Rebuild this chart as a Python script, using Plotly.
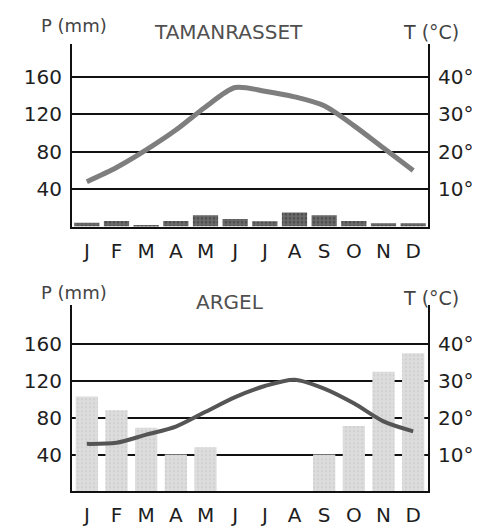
import plotly.graph_objects as go

months = ["J", "F", "M", "A", "M", "J", "J", "A", "S", "O", "N", "D"]
xpos = list(range(12))

# Tamanrasset
tam_precip = [4, 6, 1.5, 6, 12, 8, 5.5, 15, 12, 6, 3.5, 3.5]          # mm
tam_temp = [12, 15.8, 20.5, 25.8, 32, 37.2, 36.2, 34.7, 32.3, 27, 21, 15]  # °C

# Argel
arg_precip = [103, 88, 69, 40, 48, 0, 0, 0, 40, 71, 130, 150]          # mm
arg_temp = [12.9, 13.2, 15.4, 17.6, 21.6, 25.6, 28.6, 30.3, 27.9, 23.9, 19, 16.3]  # °C

p_ticks = [40, 80, 120, 160]
t_ticks = [10, 20, 30, 40]
t_ticktext = ["10°", "20°", "30°", "40°"]

W, H = 483, 527
FONT = "DejaVu Sans, Liberation Sans, sans-serif"


def px_x(p):
    return p / W


def px_y(p):
    return 1 - p / H


fig = go.Figure()

# Top chart
fig.add_trace(go.Bar(
    x=xpos, y=tam_precip, xaxis="x", yaxis="y", width=0.85,
    marker=dict(color="#5a5a5a", line=dict(width=0),
                pattern=dict(shape=".", bgcolor="#6a6a6a", fgcolor="#2e2e2e", size=4, solidity=0.35)),
    showlegend=False, hoverinfo="skip"))
fig.add_trace(go.Scatter(
    x=xpos, y=tam_temp, xaxis="x", yaxis="y3", mode="lines",
    line=dict(color="#7e7e7e", width=5, shape="spline", smoothing=0.8),
    showlegend=False, hoverinfo="skip"))

# Bottom chart
fig.add_trace(go.Bar(
    x=xpos, y=arg_precip, xaxis="x2", yaxis="y2", width=0.75,
    marker=dict(color="#d8d8d8", line=dict(width=0),
                pattern=dict(shape=".", bgcolor="#dddddd", fgcolor="#c2c2c2", size=4, solidity=0.3)),
    showlegend=False, hoverinfo="skip"))
fig.add_trace(go.Scatter(
    x=xpos, y=arg_temp, xaxis="x2", yaxis="y4", mode="lines",
    line=dict(color="#555555", width=4, shape="spline", smoothing=0.8),
    showlegend=False, hoverinfo="skip"))

xdom = [px_x(72), px_x(428)]
top_dom = [px_y(230), px_y(45)]
bot_dom = [px_y(499), px_y(310)]
top_max = 195
bot_max = 202

tickfont = dict(family=FONT, size=20, color="#1e1e1e")

common_x = dict(domain=xdom, range=[-0.5, 11.5], tickvals=xpos, ticktext=months,
                showline=True, linecolor="#111", linewidth=2, ticks="",
                showgrid=False, zeroline=False, tickfont=tickfont, ticklabelstandoff=5,
                fixedrange=True)

fig.update_layout(
    width=W, height=H,
    margin=dict(l=0, r=0, t=0, b=0),
    paper_bgcolor="white", plot_bgcolor="white",
    font=dict(family=FONT),
    xaxis=dict(anchor="y", **common_x),
    xaxis2=dict(anchor="y2", **common_x),
    yaxis=dict(domain=top_dom, range=[0, top_max], anchor="x", tickvals=p_ticks,
               showline=True, linecolor="#111", linewidth=2, ticks="",
               showgrid=True, gridcolor="#111", gridwidth=1.6, zeroline=False,
               tickfont=tickfont, ticklabelstandoff=4, layer="above traces", fixedrange=True),
    yaxis3=dict(overlaying="y", side="right", anchor="x", range=[0, top_max / 4],
                tickvals=t_ticks, ticktext=t_ticktext, showline=True, linecolor="#111",
                linewidth=2, ticks="", showgrid=False, zeroline=False,
                tickfont=tickfont, ticklabelstandoff=4, fixedrange=True),
    yaxis2=dict(domain=bot_dom, range=[0, bot_max], anchor="x2", tickvals=p_ticks,
                showline=True, linecolor="#111", linewidth=2, ticks="",
                showgrid=True, gridcolor="#111", gridwidth=1.6, zeroline=False,
                tickfont=tickfont, ticklabelstandoff=4, layer="above traces", fixedrange=True),
    yaxis4=dict(overlaying="y2", side="right", anchor="x2", range=[0, bot_max / 4],
                tickvals=t_ticks, ticktext=t_ticktext, showline=True, linecolor="#111",
                linewidth=2, ticks="", showgrid=False, zeroline=False,
                tickfont=tickfont, ticklabelstandoff=4, fixedrange=True),
)


def label(text, cx, cy, size, color="#444"):
    fig.add_annotation(text=text, x=px_x(cx), y=px_y(cy), xref="paper", yref="paper",
                       showarrow=False, xanchor="center", yanchor="middle",
                       font=dict(family=FONT, size=size, color=color))


label("P (mm)", 74, 26, 18)
label("TAMANRASSET", 228, 33, 20, "#505050")
label("T (°C)", 431, 33, 19)
label("P (mm)", 74, 297, 18)
label("ARGEL", 230, 307, 20, "#505050")
label("T (°C)", 431, 303, 19)

fig.write_html("out.html", config={"displayModeBar": False},
               post_script="document.body.style.margin='0';document.body.style.overflow='hidden';")
